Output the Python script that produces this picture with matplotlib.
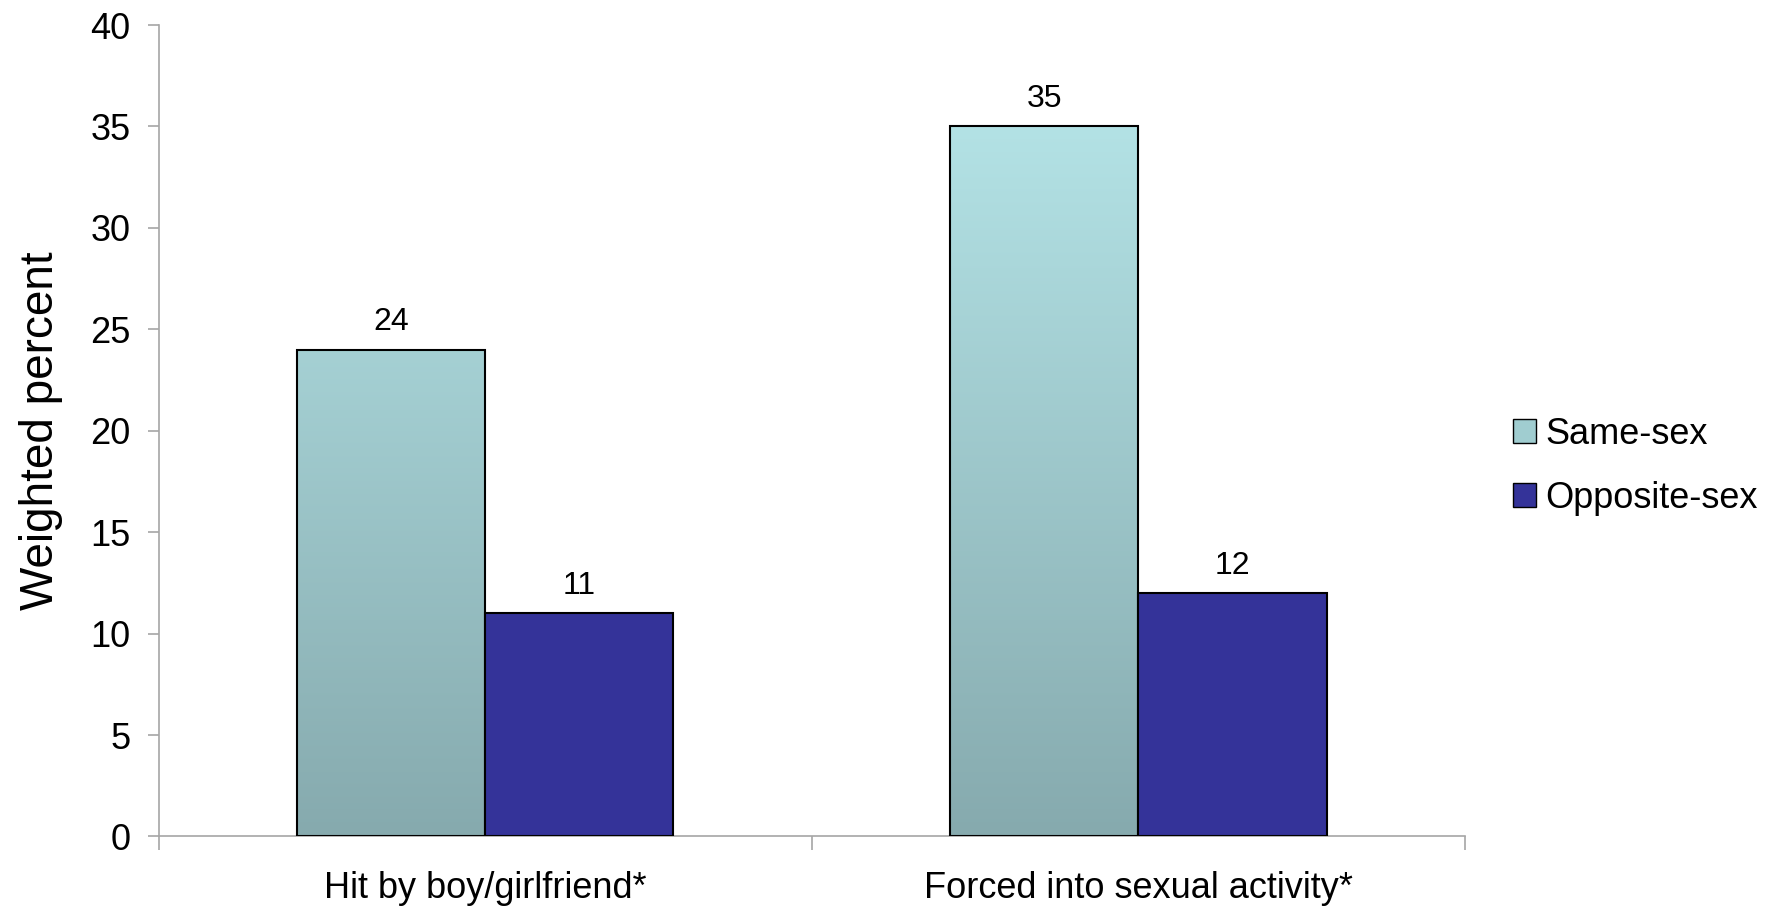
import matplotlib
matplotlib.use("Agg")
import matplotlib.pyplot as plt
import numpy as np
from matplotlib.colors import LinearSegmentedColormap
from matplotlib.patches import Patch

plt.rcParams['font.family'] = ['Liberation Sans', 'DejaVu Sans']

categories = ["Hit by boy/girlfriend*", "Forced into sexual activity*"]
same_sex = [24, 35]
opposite_sex = [11, 12]
series_names = ["Same-sex", "Opposite-sex"]

fig = plt.figure(figsize=(17.75, 9.14), dpi=100)
ax = fig.add_axes([0.0893, 0.0848, 0.7361, 0.8878])

x = np.arange(len(categories))
w = 0.288

# gradient fill for the same-sex bars
grad = LinearSegmentedColormap.from_list("teal", ["#86aaae", "#b3e2e5"])
bars1 = ax.bar(x - w / 2, same_sex, w, facecolor="none", edgecolor="black", linewidth=1.5, zorder=3)
for b in bars1:
    x0, y0 = b.get_x(), b.get_y()
    x1, y1 = x0 + b.get_width(), y0 + b.get_height()
    img = ax.imshow(np.linspace(0, 1, 256).reshape(-1, 1), cmap=grad, origin="lower",
                    extent=[x0, x1, 0, 35], aspect="auto", zorder=2)
    img.set_clip_path(b)

bars2 = ax.bar(x + w / 2, opposite_sex, w, color="#343399", edgecolor="black", linewidth=1.5, zorder=3)

for bars, vals in [(bars1, same_sex), (bars2, opposite_sex)]:
    for b, v in zip(bars, vals):
        ax.annotate(str(v), (b.get_x() + b.get_width() / 2, v), xytext=(0, 9),
                    textcoords="offset points", ha="center", va="bottom", fontsize=23)

ax.set_xlim(-0.5, 1.5)
ax.set_ylim(0, 40)
ax.set_yticks(np.arange(0, 41, 5))
ax.set_xticks(x)
ax.set_xticklabels(categories, fontsize=26)
ax.set_xticks([-0.5, 0.5, 1.5], minor=True)
ax.tick_params(axis="x", which="major", length=0, pad=25)
ax.tick_params(axis="x", which="minor", length=10, color="#a6a6a6", width=1.2)
ax.tick_params(axis="y", labelsize=26, length=8, color="#a6a6a6", width=1.2, pad=12)

for s in ["top", "right"]:
    ax.spines[s].set_visible(False)
for s in ["left", "bottom"]:
    ax.spines[s].set_color("#a6a6a6")
    ax.spines[s].set_linewidth(1.2)

ax.set_ylabel("Weighted percent", fontsize=33, labelpad=20)

handles = [Patch(facecolor="#a0cdd0", edgecolor="black"),
           Patch(facecolor="#343399", edgecolor="black")]
fig.legend(handles, series_names, loc="center left", bbox_to_anchor=(0.834, 0.49),
           frameon=False, fontsize=26, handlelength=0.65, handleheight=0.65,
           handletextpad=0.25, labelspacing=0.8)

fig.savefig("out.png", dpi=100)
